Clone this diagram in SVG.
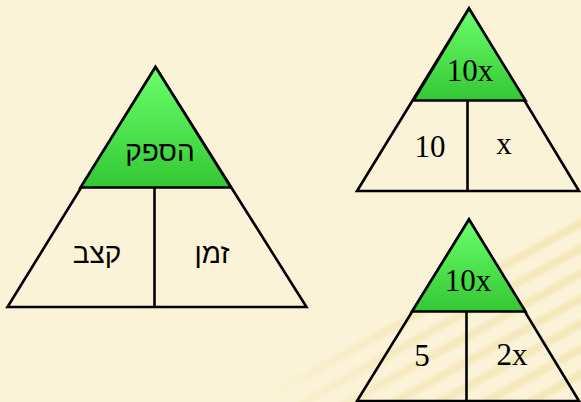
<svg xmlns="http://www.w3.org/2000/svg" width="581" height="402" viewBox="0 0 581 402">
<defs>
<linearGradient id="g" x1="0" y1="0" x2="0" y2="1">
<stop offset="0" stop-color="#6CFF6C"/>
<stop offset="1" stop-color="#33C833"/>
</linearGradient>
<linearGradient id="fade" x1="0" y1="0" x2="1" y2="0">
<stop offset="0" stop-color="#fff" stop-opacity="0"/>
<stop offset="0.45" stop-color="#fff" stop-opacity="0.8"/>
<stop offset="1" stop-color="#fff" stop-opacity="1"/>
</linearGradient>
<mask id="sm"><rect x="260" y="150" width="321" height="252" fill="url(#fade)"/></mask>
<filter id="bl" x="-10%" y="-10%" width="120%" height="120%"><feGaussianBlur stdDeviation="1.5"/></filter>
</defs>
<style>
.ln{fill:none;stroke:#000;stroke-width:2.6;stroke-linejoin:miter}
.top{fill:url(#g);stroke:#000;stroke-width:2.6;stroke-linejoin:miter}
.he{font-family:"Liberation Sans","DejaVu Sans",sans-serif;font-size:28px;fill:#000;text-anchor:middle}
.nu{font-family:"Liberation Serif","Times New Roman",serif;font-size:31px;fill:#000;text-anchor:middle}
.st{stroke:#EEDC9E;stroke-width:8;opacity:0.5}
</style>
<rect width="581" height="402" fill="#FBF3D7"/>
<g mask="url(#sm)">
<g transform="rotate(-29 450 330)" filter="url(#bl)">
<line class="st" x1="250" y1="300" x2="700" y2="300"/>
<line class="st" x1="250" y1="322" x2="700" y2="322"/>
<line class="st" x1="250" y1="344" x2="700" y2="344"/>
<line class="st" x1="250" y1="366" x2="700" y2="366"/>
<line class="st" x1="250" y1="388" x2="700" y2="388"/>
<line class="st" x1="250" y1="410" x2="700" y2="410"/>
<line class="st" x1="250" y1="432" x2="700" y2="432"/>
</g>
</g>
<g id="speed-triangle">
<polygon class="ln" points="155.5,67 7.5,307 306.5,307"/>
<polygon class="top" points="155.5,67 80.5,187.5 231,187.5"/>
<line class="ln" x1="154.5" y1="187.5" x2="154.5" y2="307"/>
<text class="he" x="160" y="161">הספק</text>
<text class="he" x="97" y="263">קצב</text>
<text class="he" x="212" y="263">זמן</text>
</g>
<g id="triangle-10-x">
<polygon class="ln" points="469,8.5 357,191 579,191"/>
<polygon class="top" points="469,8.5 413.5,100.5 525.5,100.5"/>
<line class="ln" x1="467.5" y1="100.5" x2="467.5" y2="191"/>
<text class="nu" x="470" y="81">10x</text>
<text class="nu" x="430" y="157">10</text>
<text class="nu" x="504" y="154">x</text>
</g>
<g id="triangle-5-2x">
<polygon class="ln" points="469,219.5 357,401 579,401"/>
<polygon class="top" points="469,219.5 412,311.5 525.5,311.5"/>
<line class="ln" x1="466.5" y1="311.5" x2="466.5" y2="401"/>
<text class="nu" x="468" y="291">10x</text>
<text class="nu" x="422" y="366">5</text>
<text class="nu" x="512" y="365">2x</text>
</g>
<g id="connectors"/>
</svg>
